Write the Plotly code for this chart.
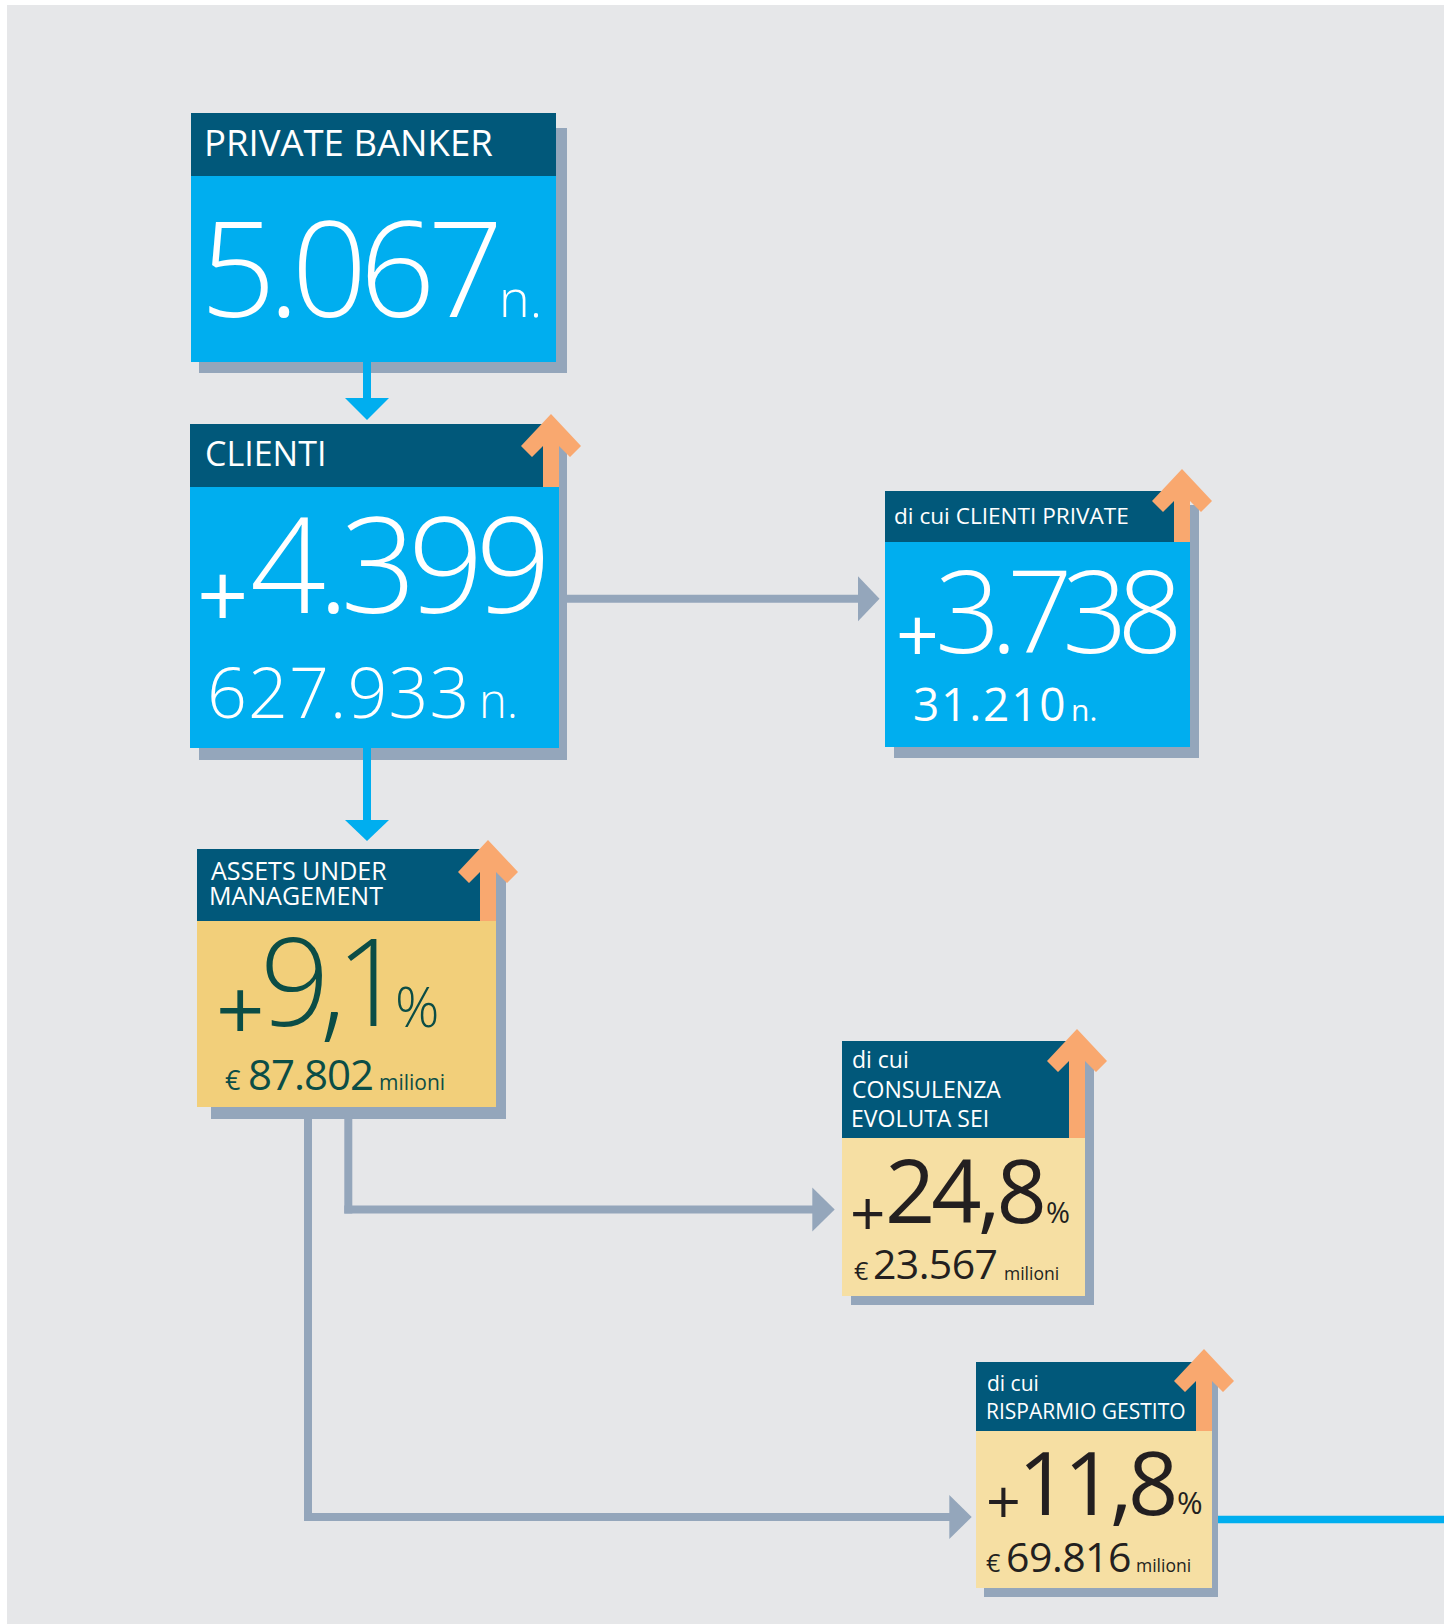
import plotly.graph_objects as go

# ── Canvas & colours ─────────────────────────────────────────────────────────
W, H = 1444, 1624
FONT = "Open Sans"

C_PAGE   = "#E6E7E9"
C_HEAD   = "#01587A"
C_BLUE   = "#00AEEF"
C_SHADOW = "#94A6BB"
C_ORANGE = "#F9A86F"
C_GOLD   = "#F2CF7A"
C_CREAM  = "#F6DFA3"
C_TEAL   = "#0B4D46"
C_INK    = "#231F20"
C_WHITE  = "#FFFFFF"

# ── Data ─────────────────────────────────────────────────────────────────────
TITLE_LINES = [
    ["PRIVATE BANKER"],
    ["CLIENTI"],
    ["di cui CLIENTI PRIVATE"],
    ["ASSETS UNDER", "MANAGEMENT"],
    ["di cui", "CONSULENZA", "EVOLUTA SEI"],
    ["di cui", "RISPARMIO GESTITO"],
]
VARIATIONS      = [None, "4.399", "3.738", "9,1", "24,8", "11,8"]
VARIATION_UNITS = ["", "", "", "%", "%", "%"]
TOTALS          = ["5.067", "627.933", "31.210", "87.802", "23.567", "69.816"]
TOTAL_CURRENCY  = ["", "", "", "€", "€", "€"]
TOTAL_UNITS     = ["n.", "n.", "n.", "milioni", "milioni", "milioni"]
RISING          = [False, True, True, True, True, True]

# ── Layout of each card (pixel coords, y grows downward) ─────────────────────
# text tuples: (x, baseline, size, weight[, letter-spacing])
CARDS = [
    dict(x0=191, x1=556, yt=113, ym=176, yb=362, sh=(199, 128, 567, 373),
         body=C_BLUE, fg=C_WHITE, tip=None, tsize=36.5,
         title=[(204, 156)],
         plus=None, var=None, vunit=None,
         total=(200, 317, 133, 300, -8), cur=None, unit=(499, 317, 52, 300)),
    dict(x0=190, x1=559, yt=424, ym=487, yb=748, sh=(199, 438, 567, 760),
         body=C_BLUE, fg=C_WHITE, tip=414, tsize=34,
         title=[(204.6, 465.7)],
         plus=(222.2, 592.5, 90, 400), var=(250, 613.3, 133, 300, -8.5), vunit=None,
         total=(207, 718, 70, 300, 1), cur=None, unit=(479, 718, 47, 300)),
    dict(x0=885, x1=1190, yt=491, ym=542, yb=747, sh=(894, 505, 1199, 758),
         body=C_BLUE, fg=C_WHITE, tip=469, tsize=22.6,
         title=[(894.3, 524.3)],
         plus=(917, 633.3, 75, 400), var=(935, 652.7, 115, 300, -10.5), vunit=None,
         total=(912.5, 721, 46, 400, 1.8), cur=None, unit=(1071, 721, 30, 400)),
    dict(x0=197, x1=496, yt=849, ym=921, yb=1107, sh=(211, 863, 506, 1119),
         body=C_GOLD, fg=C_TEAL, tip=840, tsize=25,
         title=[(211, 880), (209, 905)],
         plus=(240.9, 1006.5, 85, 400), var=(260, 1026.7, 122, 300, -10),
         vunit=(394.5, 1026.5, 55, 300),
         total=(248, 1090, 42, 400, -1), cur=(225, 1090, 27, 400), unit=(379, 1090, 21, 400)),
    dict(x0=842, x1=1085, yt=1041, ym=1138, yb=1296, sh=(851, 1055, 1094, 1305),
         body=C_CREAM, fg=C_INK, tip=1029, tsize=23,
         title=[(852, 1068.3), (852, 1098.3), (851, 1126.7)],
         plus=(867, 1212.3, 62, 400), var=(885, 1223.3, 88, 400, -4),
         vunit=(1045.5, 1223, 29, 400),
         total=(873, 1279.3, 41, 400, -0.6), cur=(853.5, 1279.3, 25, 400), unit=(1004, 1279.3, 17.5, 400)),
    dict(x0=976, x1=1212, yt=1362, ym=1431, yb=1588, sh=(984, 1376, 1218, 1597),
         body=C_CREAM, fg=C_INK, tip=1349, tsize=21,
         title=[(986.5, 1390.7), (985.7, 1419.3)],
         plus=(1003, 1500.3, 61, 400), var=(1018, 1515, 88, 400, -4.5),
         vunit=(1177, 1514, 31, 400),
         total=(1005.5, 1571.7, 41, 400, -0.5), cur=(985.5, 1571.7, 25, 400), unit=(1135.5, 1571.7, 17.5, 400)),
]

# gray connectors: polyline points, arrow tip x, arrow half height
CONNECTORS = [
    ([(566, 598.7), (858, 598.7)], 879.5, 22.5),
    ([(348.3, 1119), (348.3, 1209.5), (812.3, 1209.5)], 834.7, 22),
    ([(308, 1119), (308, 1517), (949.3, 1517)], 971.7, 22),
]
# blue down arrows: stem x, stem top, head base, head tip
DOWN_ARROWS = [(367, 362, 398, 420), (367, 748, 820, 841)]
LINE_W = 8

shapes = []


def rect(x0, y0, x1, y1, color):
    shapes.append(dict(type="rect", xref="x", yref="y", x0=x0, y0=y0, x1=x1, y1=y1,
                       fillcolor=color, line=dict(width=0), layer="above"))


def poly(points, color):
    path = "M " + " L ".join(f"{x:.1f},{y:.1f}" for x, y in points) + " Z"
    shapes.append(dict(type="path", xref="x", yref="y", path=path,
                       fillcolor=color, line=dict(width=0), layer="above"))


def up_arrow(cx, tip, base):
    poly([(cx, tip), (cx + 30, tip + 32), (cx + 19, tip + 43), (cx + 8, tip + 32),
          (cx + 8, base), (cx - 8, base), (cx - 8, tip + 32), (cx - 19, tip + 43),
          (cx - 30, tip + 32)], C_ORANGE)


# page background
rect(7, 5, W, H, C_PAGE)

# shadows
for c in CARDS:
    rect(*c["sh"], C_SHADOW)

# gray connectors
hw = LINE_W / 2
for pts, tip_x, half in CONNECTORS:
    for (ax, ay), (bx, by) in zip(pts[:-1], pts[1:]):
        rect(min(ax, bx) - hw, min(ay, by) - hw, max(ax, bx) + hw, max(ay, by) + hw, C_SHADOW)
    ex, ey = pts[-1]
    poly([(ex, ey - half), (tip_x, ey), (ex, ey + half)], C_SHADOW)

# cards
for c in CARDS:
    rect(c["x0"], c["yt"], c["x1"], c["ym"], C_HEAD)
    rect(c["x0"], c["ym"], c["x1"], c["yb"], c["body"])

# blue down arrows
for sx, s0, hb, ht in DOWN_ARROWS:
    rect(sx - hw, s0, sx + hw, hb + 1, C_BLUE)
    poly([(sx - 22, hb), (sx + 22, hb), (sx, ht)], C_BLUE)

# orange growth arrows
for c, up in zip(CARDS, RISING):
    if up:
        up_arrow(c["x1"] - 8, c["tip"], c["ym"])

# blue line leaving the last card
rect(CARDS[-1]["sh"][2], 1515.7, W, 1523.3, C_BLUE)

fig = go.Figure()


def label(x, base, size, text, color, weight=400, spacing=0):
    if spacing:
        text = f'<span style="letter-spacing:{spacing}px">{text}</span>'
    fig.add_annotation(
        x=x, y=base - 0.388 * size, xref="x", yref="y",
        text=text, showarrow=False, xanchor="left", yanchor="middle",
        borderpad=0, borderwidth=0,
        font=dict(family=FONT, size=size, color=color, weight=weight),
    )


def plus(cx, cy, size, color, weight):
    fig.add_annotation(
        x=cx, y=cy, xref="x", yref="y", text="+", showarrow=False,
        xanchor="center", yanchor="middle", borderpad=0, borderwidth=0,
        font=dict(family=FONT, size=size, color=color, weight=weight),
    )


for i, c in enumerate(CARDS):
    for (tx, tb), line in zip(c["title"], TITLE_LINES[i]):
        label(tx, tb, c["tsize"], line, C_WHITE)
    fg = c["fg"]
    if c["plus"]:
        px, py, ps, pw = c["plus"]
        plus(px, py, ps, fg, pw)
    if c["var"]:
        vx, vb, vs, vw, vl = c["var"]
        label(vx, vb, vs, VARIATIONS[i], fg, vw, vl)
    if c["vunit"]:
        ux, ub, us, uw = c["vunit"]
        label(ux, ub, us, VARIATION_UNITS[i], fg, uw)
    tx, tb, ts, tw, tl = c["total"]
    label(tx, tb, ts, TOTALS[i], fg, tw, tl)
    if c["cur"]:
        cx, cb, cs, cw = c["cur"]
        label(cx, cb, cs, TOTAL_CURRENCY[i], fg, cw)
    ux, ub, us, uw = c["unit"]
    label(ux, ub, us, TOTAL_UNITS[i], fg, uw)

fig.update_layout(
    width=W, height=H, autosize=False,
    margin=dict(l=0, r=0, t=0, b=0),
    paper_bgcolor="#FFFFFF", plot_bgcolor="#FFFFFF",
    xaxis=dict(range=[0, W], visible=False, fixedrange=True),
    yaxis=dict(range=[H, 0], visible=False, fixedrange=True),
    showlegend=False,
    shapes=shapes,
)

# the page body has a default 8px margin: drop it so the figure sits at (0, 0)
fig.write_html("out.html", config={"displayModeBar": False},
               post_script="document.body.style.margin='0';")
